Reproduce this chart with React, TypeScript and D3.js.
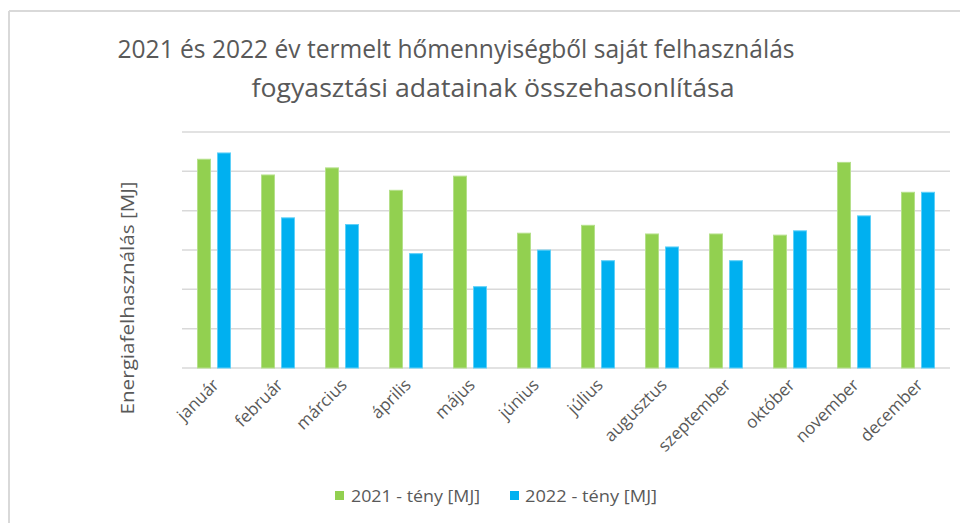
import React from "react";
import * as d3 from "d3";

const months = ["január","február","március","április","május","június","július","augusztus","szeptember","október","november","december"];
const seriesNames = ["2021 - tény [MJ]", "2022 - tény [MJ]"];
const values2021 = [53200, 49200, 51000, 45300, 48900, 34400, 36400, 34200, 34200, 33900, 52400, 44800];
const values2022 = [54800, 38300, 36600, 29200, 20800, 30100, 27400, 30900, 27400, 35000, 38800, 44800];
const yTicks = [0, 10000, 20000, 30000, 40000, 50000, 60000];
const colors = ["#92D050", "#00B0F0"];
const strokeColors = ["#B5E08A", "#5FD0F8"];
const titleLines = ["2021 és 2022 év termelt hőmennyiségből  saját felhasználás", "fogyasztási adatainak összehasonlítása"];
const yLabel = "Energiafelhasználás [MJ]";

const FONT = "'Open Sans', 'Noto Sans', sans-serif";
const TEXT = "#595959";

export default function App() {
  const W = 960, H = 523;
  const x0 = d3.scaleBand<string>().domain(months).range([182, 950]).paddingInner(0).paddingOuter(0);
  const x1 = d3.scaleBand<string>().domain(seriesNames).range([0, x0.bandwidth()]).paddingInner(0.3).paddingOuter(0.75);
  const y = d3.scaleLinear().domain([0, 60000]).range([368, 132]);
  const data = [values2021, values2022];

  return (
    <svg width={W} height={H} style={{ position: "absolute", left: 0, top: 0, background: "#fff" }} fontFamily={FONT}>
      <rect x={0} y={0} width={W} height={H} fill="#fff" />
      <line x1={9} y1={11} x2={W} y2={11} stroke="#d9d9d9" strokeWidth={2} />
      <line x1={9} y1={11} x2={9} y2={H} stroke="#d9d9d9" strokeWidth={2} />

      <text x={456} y={58} textAnchor="middle" fontSize={25} fill={TEXT} textLength={677} lengthAdjust="spacingAndGlyphs">{titleLines[0]}</text>
      <text x={493} y={97} textAnchor="middle" fontSize={25} fill={TEXT} textLength={483} lengthAdjust="spacingAndGlyphs">{titleLines[1]}</text>

      {yTicks.map((t) => (
        <line key={t} x1={182} x2={950} y1={y(t)} y2={y(t)} stroke="#d9d9d9" strokeWidth={1.5} />
      ))}

      {data.map((vals, si) =>
        vals.map((v, i) => (
          <rect key={si + "-" + i}
            x={(x0(months[i]) as number) + (x1(seriesNames[si]) as number) + 0.5}
            y={y(v) + 0.5} width={x1.bandwidth() - 1} height={y(0) - y(v) - 0.5}
            fill={colors[si]} stroke={strokeColors[si]} strokeWidth={1} />
        ))
      )}

      {months.map((m) => {
        const cx = (x0(m) as number) + x0.bandwidth() / 2 + 6;
        return (
          <text key={m} transform={`translate(${cx},${386}) rotate(-45)`} textAnchor="end" fontSize={17} fill={TEXT}>{m}</text>
        );
      })}

      <text transform={`translate(134,298) rotate(-90)`} textAnchor="middle" fontSize={18} fill={TEXT} textLength={233} lengthAdjust="spacingAndGlyphs">{yLabel}</text>

      {seriesNames.map((s, i) => {
        const lx = i === 0 ? 335 : 510;
        const tx = i === 0 ? 351 : 525;
        return (
          <g key={s}>
            <rect x={lx} y={491} width={9} height={9} fill={colors[i]} />
            <text x={tx} y={502} fontSize={16} fill={TEXT} textLength={i === 0 ? 129 : 132} lengthAdjust="spacingAndGlyphs">{s}</text>
          </g>
        );
      })}
    </svg>
  );
}
